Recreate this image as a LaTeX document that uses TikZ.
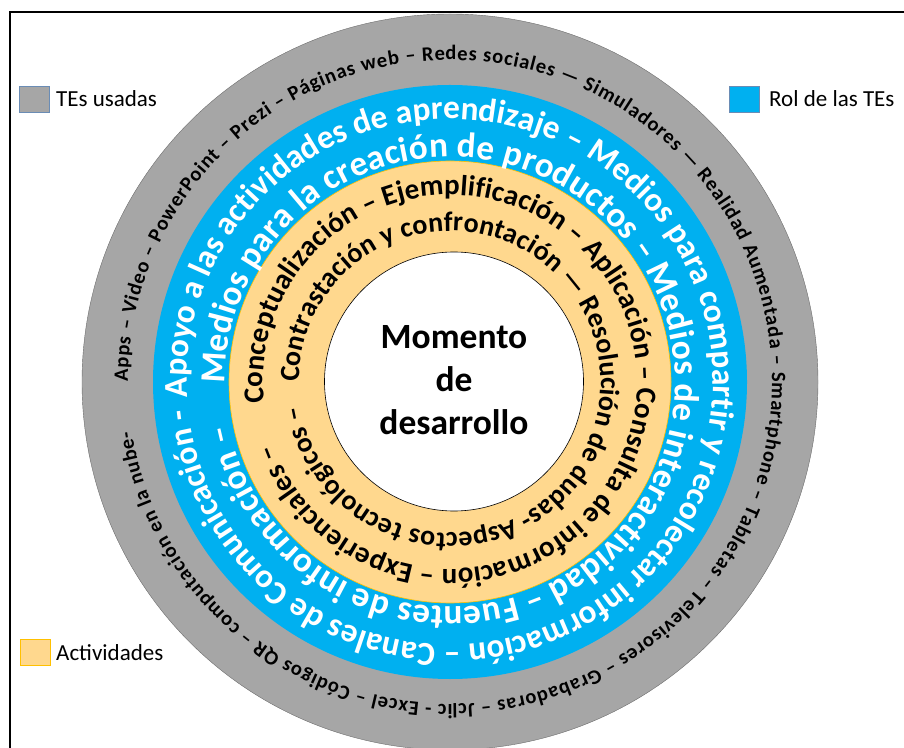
\documentclass[tikz,border=0pt]{standalone}
\usepackage{fontspec}
\setmainfont{Carlito}
\usetikzlibrary{decorations.text}
\definecolor{ringgray}{HTML}{A6A6A6}
\definecolor{ringblue}{HTML}{00B0F0}
\definecolor{ringorange}{HTML}{FFD88E}
\definecolor{orangeedge}{HTML}{FFC000}
\definecolor{boxedge}{HTML}{6A8CB5}
\begin{document}
\begin{tikzpicture}[x=1pt,y=1pt,
  legendbox/.style={minimum width=30pt, minimum height=26pt, inner sep=0pt, line width=0.8pt},
  legendtext/.style={anchor=base west, inner sep=0pt, font=\fontsize{23}{27}\selectfont},
  centertext/.style={anchor=base, inner sep=0pt, font=\bfseries\fontsize{35.5}{40}\selectfont},
  ringtext/.style={decorate, decoration={text along path, text align={fit to path}}},
]
\useasboundingbox (0,0) rectangle (904,747);
\clip (0,0) rectangle (904,747);
\coordinate (C) at (450,365);
\coordinate (W) at (454,365.5);
% frame
\draw[line width=1.4pt] (9.8,-20) -- (9.8,735) -- (930,735);
% rings
\filldraw[fill=ringgray, draw=gray!85!black, line width=0.4pt] (C) circle[radius=368pt];
\fill[ringblue] (C) circle[radius=297pt];
\filldraw[fill=ringorange, draw=orangeedge, line width=0.6pt] (C) circle[radius=221pt];
\filldraw[fill=white, draw=black, line width=0.6pt] (W) circle[radius=129.5pt];
% gray ring text
\path[ringtext, decoration={text={|\bfseries\fontsize{20.5}{22}\selectfont|Apps – Video – PowerPoint – Prezi – Páginas web – Redes sociales — Simuladores — Realidad Aumentada – Smartphone – Tabletas – Televisores – Grabadoras – Jclic - Excel – Códigos QR – computación en la nube-}}]
  (C) ++(180:322pt) arc[start angle=180, end angle=-171.1, radius=322pt];
% blue ring text
\path[ringtext, decoration={text={|\color{white}\bfseries\fontsize{33.4}{36}\selectfont|Apoyo a las actividades de aprendizaje – Medios para compartir y recolectar información – Canales de Comunicación -}}]
  (C) ++(183.3:263pt) arc[start angle=183.3, end angle=-173.9, radius=263pt];
\path[ringtext, decoration={text={|\color{white}\bfseries\fontsize{35.2}{38}\selectfont|Medios para la creación de productos – Medios de interactividad – Fuentes de información –}}]
  (C) ++(180.5:225pt) arc[start angle=180.5, end angle=-169, radius=225pt];
% orange ring text
\path[ringtext, decoration={text={|\bfseries\fontsize{29}{31}\selectfont|Conceptualización – Ejemplificación – Aplicación – Consulta de información – Experienciales –}}]
  (C) ++(186.4:187pt) arc[start angle=186.4, end angle=-160.7, radius=187pt];
\path[ringtext, decoration={text={|\bfseries\fontsize{28}{30}\selectfont|Contrastación y confrontación — Resolución de dudas- Aspectos tecnológicos –}}]
  (C) ++(180:151pt) arc[start angle=180, end angle=-171, radius=151pt];
% center text
\node[centertext] (m1) at (454,398) {Momento};
\node[centertext] (m2) at (454,355) {de};
\node[centertext] (m3) at (454,312) {desarrollo};
% legend
\node[legendbox, fill=ringgray, draw=boxedge] (lg1) at (34.5,647.5) {};
\node[legendtext] (lt1) at (56,640.3) {TEs usadas};
\node[legendbox, fill=ringblue, draw=boxedge] (lg2) at (744,647.5) {};
\node[legendtext] (lt2) at (769,640.3) {Rol de las TEs};
\node[legendbox, fill=ringorange, draw=orangeedge] (lg3) at (35.5,95) {};
\node[legendtext] (lt3) at (56,86.3) {Actividades};
\end{tikzpicture}
\end{document}
